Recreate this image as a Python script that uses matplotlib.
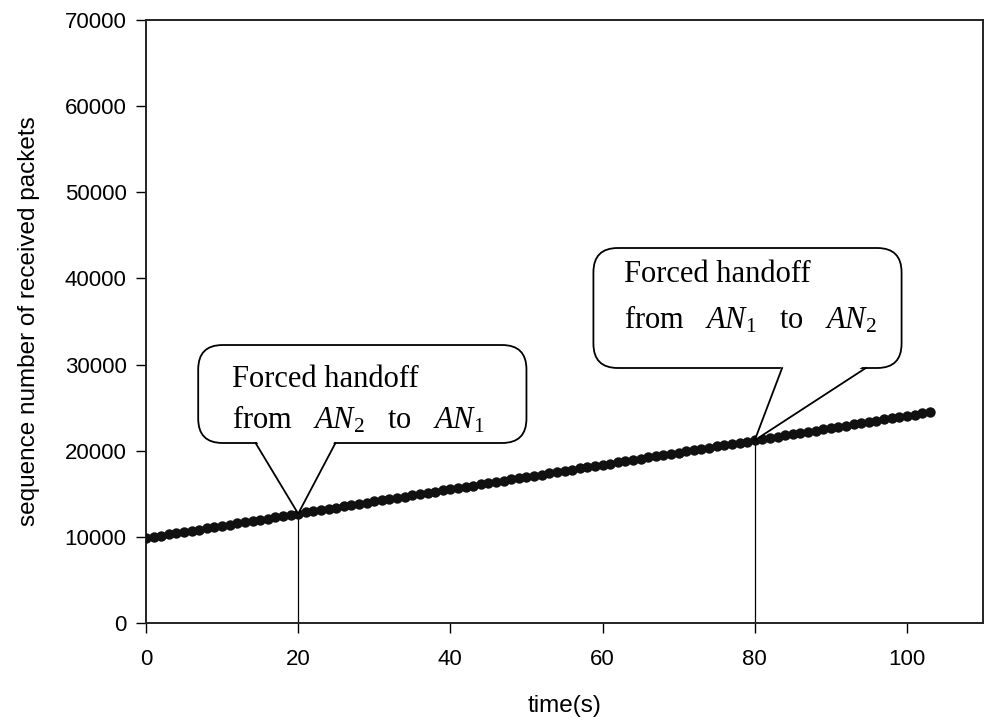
import matplotlib
matplotlib.use("Agg")
import matplotlib.pyplot as plt
from matplotlib.patches import FancyBboxPatch, Polygon

plt.rcParams['font.family'] = ['Liberation Sans', 'DejaVu Sans']
plt.rcParams['mathtext.fontset'] = 'custom'
plt.rcParams['mathtext.rm'] = 'Liberation Serif'
plt.rcParams['mathtext.it'] = 'Liberation Serif:italic'

time_s = list(range(0, 104))
seq_num = [
    9850, 9992, 10134, 10276, 10418, 10560, 10702, 10844, 10986, 11128,
    11270, 11412, 11554, 11696, 11838, 11980, 12122, 12264, 12406, 12548,
    12690, 12832, 12974, 13116, 13258, 13400, 13542, 13684, 13826, 13968,
    14110, 14252, 14394, 14536, 14678, 14820, 14962, 15104, 15246, 15388,
    15530, 15672, 15814, 15956, 16098, 16240, 16382, 16524, 16666, 16808,
    16950, 17092, 17234, 17376, 17518, 17660, 17802, 17944, 18086, 18228,
    18370, 18512, 18654, 18796, 18938, 19080, 19222, 19364, 19506, 19648,
    19790, 19932, 20074, 20216, 20358, 20500, 20642, 20784, 20926, 21068,
    21210, 21352, 21494, 21636, 21778, 21920, 22062, 22204, 22346, 22488,
    22630, 22772, 22914, 23056, 23198, 23340, 23482, 23624, 23766, 23908,
    24050, 24192, 24334, 24476,
]
handoff_times = [20, 80]
callout_lines = [
    ("Forced handoff", r"from   $AN_2$   to   $AN_1$"),
    ("Forced handoff", r"from   $AN_1$   to   $AN_2$"),
]
xticks = [0, 20, 40, 60, 80, 100]
yticks = [0, 10000, 20000, 30000, 40000, 50000, 60000, 70000]

fig = plt.figure(figsize=(9.84, 7.23), dpi=100)
ax = fig.add_axes([146/984, 1-623/723, 837/984, 603/723])

ax.plot(time_s, seq_num, color='#111111', lw=1.8, marker='o', ms=7.5,
        markeredgewidth=0, zorder=3)

ax.set_xlim(0, 110)
ax.set_ylim(0, 70000)
ax.set_xticks(xticks)
ax.set_yticks(yticks)
ax.tick_params(direction='out', length=7, width=1, labelsize=16)
ax.tick_params(axis='x', pad=12)
ax.tick_params(axis='y', pad=7)
for s in ax.spines.values():
    s.set_linewidth(1.4)
    s.set_color('#222222')
ax.set_xlabel("time(s)", fontsize=17.5, labelpad=18)
ax.set_ylabel("sequence number of received packets", fontsize=17.5, labelpad=18)

# vertical handoff lines
for t in handoff_times:
    ax.vlines(t, 0, seq_num[time_s.index(t)], color='black', lw=0.9, zorder=2)

# callout boxes (data coords): box extents, pointer base x's, text positions
boxes = [
    dict(x0=6.86, x1=50.0, y0=20896, y1=32270, bx=(14.4, 24.9),
         tx=11.35, ty=(28210, 23566)),
    dict(x0=58.8, x1=99.3, y0=29602, y1=43532, bx=(83.6, 94.6),
         tx=62.8, ty=(40399, 35175)),
]
aspect = (837/110) / (603/70000)  # px per x-unit over px per y-unit
for (b, t, lines) in zip(boxes, handoff_times, callout_lines):
    tip = (t, seq_num[time_s.index(t)])
    r = 3.2
    patch = FancyBboxPatch((b['x0'] + r, b['y0'] + r*aspect),
                           (b['x1'] - b['x0']) - 2*r,
                           (b['y1'] - b['y0']) - 2*r*aspect,
                           boxstyle=f"round,pad={r},rounding_size={r}",
                           mutation_aspect=aspect,
                           facecolor='white', edgecolor='black', lw=1.3, zorder=4)
    ax.add_patch(patch)
    # white cover for pointer opening
    cover = Polygon([(b['bx'][0], b['y0'] + 400), (b['bx'][1], b['y0'] + 400),
                     tip], closed=True, facecolor='white', edgecolor='none',
                    zorder=5)
    ax.add_patch(cover)
    ax.plot([b['bx'][0], tip[0], b['bx'][1]], [b['y0'], tip[1], b['y0']],
            color='black', lw=1.3, zorder=6, solid_joinstyle='miter')
    ax.text(b['tx'], b['ty'][0], lines[0], fontsize=22,
            family='Liberation Serif', ha='left', va='center', zorder=7)
    ax.text(b['tx'], b['ty'][1], lines[1], fontsize=22,
            family='Liberation Serif', ha='left', va='center', zorder=7)

fig.savefig("out.png", dpi=100)
